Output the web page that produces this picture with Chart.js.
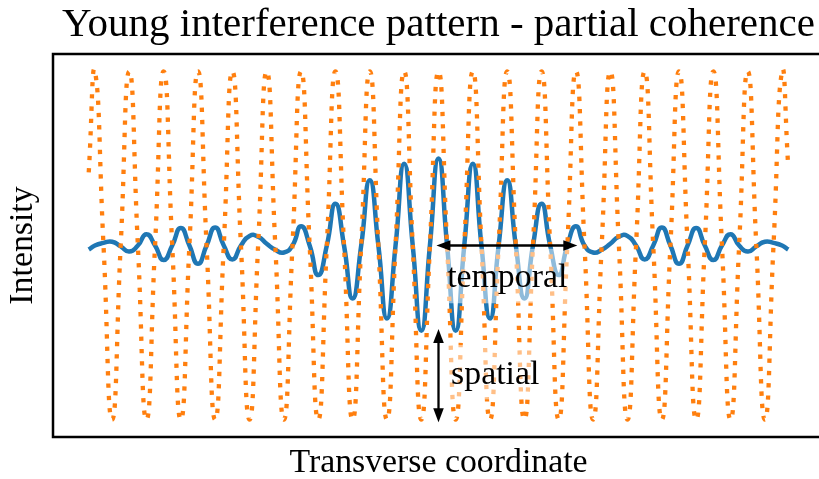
<!DOCTYPE html>
<html>
<head>
<meta charset="utf-8">
<title>Young interference pattern - partial coherence</title>
<script src="https://cdn.jsdelivr.net/npm/chart.js@4.4.1/dist/chart.umd.min.js"></script>
<style>
  html, body { margin: 0; padding: 0; background: #ffffff; overflow: hidden; }
  #wrap { width: 819px; height: 479px; overflow: hidden; position: relative; }
  #wrap canvas { display: block; }
</style>
</head>
<body>
<div id="wrap"><canvas id="chart" width="877" height="479" style="width:877px;height:479px"></canvas></div>
<script>
// Sample positions along the transverse coordinate (in fringe periods):
// quarter-period steps from -10 to +10, plus the two end points of the trace.
const SAMPLE_START = -10;
const SAMPLE_STEP = 0.25;
const END_X = [-10.18, 10.18];

// Fully coherent fringes (dotted)
const coherentIntensity = [
  2, 1, 0, 1,  2, 1, 0, 1,  2, 1, 0, 1,  2, 1, 0, 1,  2, 1, 0, 1,
  2, 1, 0, 1,  2, 1, 0, 1,  2, 1, 0, 1,  2, 1, 0, 1,  2, 1, 0, 1,
  2, 1, 0, 1,  2, 1, 0, 1,  2, 1, 0, 1,  2, 1, 0, 1,  2, 1, 0, 1,
  2, 1, 0, 1,  2, 1, 0, 1,  2, 1, 0, 1,  2, 1, 0, 1,  2, 1, 0, 1,
  2
];
const coherentEnds = [1.42, 1.45];

// Partially coherent fringes (solid)
const partialIntensity = [
  1.00, 1.015, 1.022, 0.995, 0.965, 1.00, 1.065, 1.00, 0.917, 1.00,
  1.10, 1.00, 0.895, 1.00, 1.103, 1.00, 0.92, 1.00, 1.055, 1.05,
  1.01, 0.975, 0.96, 1.00, 1.11, 1.00, 0.83, 1.00, 1.24, 1.00,
  0.695, 1.00, 1.375, 1.00, 0.58, 1.00, 1.47, 1.00, 0.51, 1.00,
  1.50,
  1.00, 0.51, 1.00, 1.47, 1.00, 0.58, 1.00, 1.375, 1.00, 0.695,
  1.00, 1.24, 1.00, 0.83, 1.00, 1.11, 1.00, 0.96, 0.975, 1.01,
  1.05, 1.055, 1.00, 0.92, 1.00, 1.103, 1.00, 0.895, 1.00, 1.10,
  1.00, 0.917, 1.00, 1.065, 1.00, 0.965, 0.995, 1.022, 1.015, 1.00
];
const partialEnds = [0.977, 0.977];

// Annotation arrows: [x0, y0, x1, y1] in data units
const temporalArrow = [-0.06, 1.0, 4.04, 1.0];
const spatialArrow = [0.0, 0.52, 0.0, -0.015];

function toPoints(values, ends) {
  const pts = values.map((v, i) => ({ x: SAMPLE_START + i * SAMPLE_STEP, y: v }));
  pts.unshift({ x: END_X[0], y: ends[0] });
  pts.push({ x: END_X[1], y: ends[1] });
  return pts;
}

const SERIF = '"Liberation Serif", "Times New Roman", Times, serif';
const LABEL_SIZE = 33.8;

function drawArrowHead(ctx, tipX, tipY, dirX, dirY, len, halfW) {
  const bx = tipX - dirX * len, by = tipY - dirY * len;
  const nx = -dirY, ny = dirX;
  ctx.beginPath();
  ctx.moveTo(tipX, tipY);
  ctx.lineTo(bx + nx * halfW, by + ny * halfW);
  ctx.lineTo(bx - nx * halfW, by - ny * halfW);
  ctx.closePath();
  ctx.fill();
}

function drawDoubleArrow(ctx, x0, y0, x1, y1) {
  const dx = x1 - x0, dy = y1 - y0;
  const L = Math.hypot(dx, dy);
  const ux = dx / L, uy = dy / L;
  const headLen = 14, headHalf = 5.3;
  ctx.save();
  ctx.strokeStyle = '#000';
  ctx.fillStyle = '#000';
  ctx.lineWidth = 2.3;
  ctx.beginPath();
  ctx.moveTo(x0 + ux * headLen * 0.8, y0 + uy * headLen * 0.8);
  ctx.lineTo(x1 - ux * headLen * 0.8, y1 - uy * headLen * 0.8);
  ctx.stroke();
  drawArrowHead(ctx, x1, y1, ux, uy, headLen, headHalf);
  drawArrowHead(ctx, x0, y0, -ux, -uy, headLen, headHalf);
  ctx.restore();
}

function drawBoxedLabel(ctx, text, cx, baseline) {
  ctx.save();
  ctx.font = LABEL_SIZE + 'px ' + SERIF;
  const w = ctx.measureText(text).width;
  const pad = 8.5;
  const left = cx - w / 2;
  ctx.fillStyle = 'rgba(255,255,255,0.5)';
  ctx.fillRect(left - pad, baseline - 0.891 * LABEL_SIZE - pad,
               w + 2 * pad, 1.107 * LABEL_SIZE + 2 * pad);
  ctx.fillStyle = '#000';
  ctx.textAlign = 'left';
  ctx.textBaseline = 'alphabetic';
  ctx.fillText(text, left, baseline);
  ctx.restore();
}

const overlayPlugin = {
  id: 'overlay',
  afterDatasetsDraw(chart) {
    const { ctx, chartArea: a, scales: { x, y } } = chart;
    // text labels with translucent backgrounds
    drawBoxedLabel(ctx, 'temporal', x.getPixelForValue(2.0), y.getPixelForValue(0.759));
    drawBoxedLabel(ctx, 'spatial', x.getPixelForValue(1.65), y.getPixelForValue(0.207));
    // arrows
    drawDoubleArrow(ctx,
      x.getPixelForValue(temporalArrow[0]), y.getPixelForValue(temporalArrow[1]),
      x.getPixelForValue(temporalArrow[2]), y.getPixelForValue(temporalArrow[3]));
    drawDoubleArrow(ctx,
      x.getPixelForValue(spatialArrow[0]), y.getPixelForValue(spatialArrow[1]),
      x.getPixelForValue(spatialArrow[2]), y.getPixelForValue(spatialArrow[3]));
    // axes frame
    ctx.save();
    ctx.strokeStyle = '#000';
    ctx.lineWidth = 2.5;
    ctx.strokeRect(a.left, a.top, a.right - a.left, a.bottom - a.top);
    ctx.restore();
  }
};

new Chart(document.getElementById('chart'), {
  type: 'line',
  data: {
    datasets: [
      {
        label: 'coherent',
        data: toPoints(coherentIntensity, coherentEnds),
        borderColor: '#ff7f0e',
        borderWidth: 4.3,
        borderDash: [4.3, 8.0],
        borderCapStyle: 'butt',
        pointRadius: 0,
        tension: 0.55,
        fill: false
      },
      {
        label: 'partially coherent',
        data: toPoints(partialIntensity, partialEnds),
        borderColor: '#1f77b4',
        borderWidth: 4.5,
        pointRadius: 0,
        tension: 0.55,
        fill: false
      }
    ]
  },
  options: {
    responsive: false,
    animation: false,
    devicePixelRatio: 1,
    layout: { padding: { left: 0, right: 53, top: 0, bottom: 0 } },
    plugins: {
      legend: { display: false },
      tooltip: { enabled: false },
      title: {
        display: true,
        text: 'Young interference pattern - partial coherence',
        fullSize: false,
        color: '#000',
        font: { family: SERIF, size: 41, weight: 'normal', lineHeight: 1 },
        padding: { top: 4.5, bottom: 8.5 }
      }
    },
    scales: {
      x: {
        type: 'linear',
        min: -11.22,
        max: 11.22,
        grid: { display: false },
        border: { display: false },
        ticks: { display: false },
        title: {
          display: true,
          text: 'Transverse coordinate',
          color: '#000',
          font: { family: SERIF, size: LABEL_SIZE, weight: 'normal', lineHeight: 1 },
          padding: { top: 0, bottom: -1.5 }
        },
        afterFit(scale) { scale.height = 42; }
      },
      y: {
        type: 'linear',
        min: -0.1,
        max: 2.1,
        grid: { display: false },
        border: { display: false },
        ticks: { display: false },
        title: {
          display: true,
          text: 'Intensity',
          color: '#000',
          font: { family: SERIF, size: LABEL_SIZE, weight: 'normal', lineHeight: 1 },
          padding: { top: 6.2, bottom: 0 }
        },
        afterFit(scale) { scale.width = 53; }
      }
    }
  },
  plugins: [overlayPlugin]
});
</script>
</body>
</html>
